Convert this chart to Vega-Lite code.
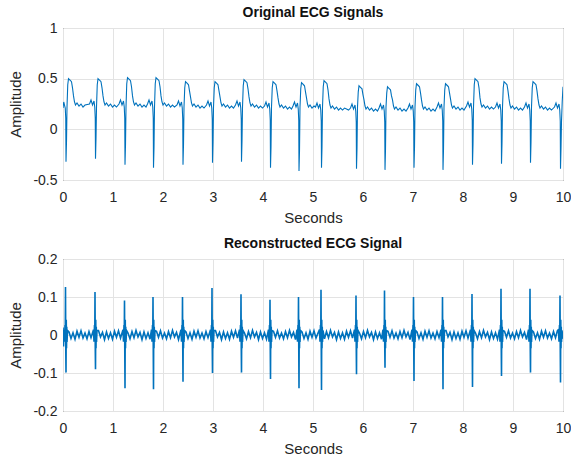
{
"$schema": "https://vega.github.io/schema/vega-lite/v6.json",
"background": "white",
"padding": {"left": 8, "top": 5, "right": 0, "bottom": 0},
"config": {
  "font": "Liberation Sans",
  "view": {"stroke": "#262626", "strokeWidth": 1},
  "axis": {"domain": false, "ticks": false, "grid": true, "labelFlush": false, "gridColor": "#e3e3e3", "gridOpacity": 1, "labelColor": "#262626", "titleColor": "#262626", "labelFontSize": 14, "titleFontSize": 15, "titleFontWeight": "normal"},
  "axisX": {"labelPadding": 10, "titlePadding": 6},
  "axisY": {"labelPadding": 6, "titlePadding": 9},
  "title": {"fontSize": 14, "fontWeight": "bold", "color": "#111111", "offset": 1, "frame": "group", "anchor": "middle"},
  "concat": {"spacing": 10}
},
"datasets": {
"o": [
{"t":0,"v":0.21},{"t":0.015,"v":0.27},{"t":0.03,"v":0.24},{"t":0.045,"v":0.21},{"t":0.055,"v":0.11},{"t":0.06,"v":-0.32},{"t":0.07,"v":-0.12},{"t":0.08,"v":0.22},{"t":0.095,"v":0.44},{"t":0.11,"v":0.5},{"t":0.13,"v":0.49},{"t":0.15,"v":0.48},{"t":0.17,"v":0.47},{"t":0.19,"v":0.41},{"t":0.21,"v":0.33},{"t":0.23,"v":0.27},{"t":0.25,"v":0.24},{"t":0.28,"v":0.26},{"t":0.32,"v":0.23},{"t":0.36,"v":0.25},{"t":0.4,"v":0.22},{"t":0.44,"v":0.24},
{"t":0.53,"v":0.25},{"t":0.56,"v":0.29},{"t":0.59,"v":0.24},{"t":0.62,"v":0.28},{"t":0.635,"v":0.22},{"t":0.645,"v":0.11},{"t":0.65,"v":-0.29},{"t":0.66,"v":-0.09},{"t":0.67,"v":0.22},{"t":0.685,"v":0.44},{"t":0.7,"v":0.5},{"t":0.72,"v":0.49},{"t":0.74,"v":0.48},{"t":0.76,"v":0.47},{"t":0.78,"v":0.41},{"t":0.8,"v":0.33},{"t":0.82,"v":0.27},{"t":0.84,"v":0.24},{"t":0.87,"v":0.26},{"t":0.91,"v":0.23},{"t":0.95,"v":0.25},{"t":0.99,"v":0.22},{"t":1.03,"v":0.24},{"t":1.07,"v":0.22},
{"t":1.12,"v":0.25},{"t":1.15,"v":0.29},{"t":1.18,"v":0.24},{"t":1.21,"v":0.28},{"t":1.225,"v":0.22},{"t":1.235,"v":0.11},{"t":1.24,"v":-0.35},{"t":1.25,"v":-0.15},{"t":1.26,"v":0.22},{"t":1.275,"v":0.45},{"t":1.29,"v":0.51},{"t":1.31,"v":0.5},{"t":1.33,"v":0.49},{"t":1.35,"v":0.48},{"t":1.37,"v":0.42},{"t":1.39,"v":0.33},{"t":1.41,"v":0.27},{"t":1.43,"v":0.24},{"t":1.46,"v":0.26},{"t":1.5,"v":0.23},{"t":1.54,"v":0.25},{"t":1.58,"v":0.22},{"t":1.62,"v":0.24},{"t":1.66,"v":0.22},
{"t":1.69,"v":0.25},{"t":1.72,"v":0.29},{"t":1.75,"v":0.24},{"t":1.78,"v":0.28},{"t":1.795,"v":0.22},{"t":1.805,"v":0.11},{"t":1.81,"v":-0.38},{"t":1.82,"v":-0.18},{"t":1.83,"v":0.22},{"t":1.845,"v":0.45},{"t":1.86,"v":0.51},{"t":1.88,"v":0.5},{"t":1.9,"v":0.49},{"t":1.92,"v":0.48},{"t":1.94,"v":0.42},{"t":1.96,"v":0.33},{"t":1.98,"v":0.27},{"t":2.0,"v":0.24},{"t":2.03,"v":0.26},{"t":2.07,"v":0.23},{"t":2.11,"v":0.25},{"t":2.15,"v":0.22},{"t":2.19,"v":0.24},{"t":2.23,"v":0.22},
{"t":2.28,"v":0.24},{"t":2.31,"v":0.28},{"t":2.34,"v":0.23},{"t":2.37,"v":0.27},{"t":2.385,"v":0.21},{"t":2.395,"v":0.1},{"t":2.4,"v":-0.35},{"t":2.41,"v":-0.15},{"t":2.42,"v":0.22},{"t":2.435,"v":0.41},{"t":2.45,"v":0.47},{"t":2.47,"v":0.46},{"t":2.49,"v":0.45},{"t":2.51,"v":0.44},{"t":2.53,"v":0.38},{"t":2.55,"v":0.32},{"t":2.57,"v":0.26},{"t":2.59,"v":0.23},{"t":2.62,"v":0.25},{"t":2.66,"v":0.22},{"t":2.7,"v":0.24},{"t":2.74,"v":0.21},{"t":2.78,"v":0.23},{"t":2.82,"v":0.21},
{"t":2.87,"v":0.24},{"t":2.9,"v":0.28},{"t":2.93,"v":0.23},{"t":2.96,"v":0.27},{"t":2.975,"v":0.21},{"t":2.985,"v":0.1},{"t":2.99,"v":-0.33},{"t":3.0,"v":-0.13},{"t":3.01,"v":0.22},{"t":3.025,"v":0.41},{"t":3.04,"v":0.47},{"t":3.06,"v":0.46},{"t":3.08,"v":0.45},{"t":3.1,"v":0.44},{"t":3.12,"v":0.38},{"t":3.14,"v":0.32},{"t":3.16,"v":0.26},{"t":3.18,"v":0.23},{"t":3.21,"v":0.25},{"t":3.25,"v":0.22},{"t":3.29,"v":0.24},{"t":3.33,"v":0.21},{"t":3.37,"v":0.23},{"t":3.41,"v":0.21},
{"t":3.45,"v":0.24},{"t":3.48,"v":0.28},{"t":3.51,"v":0.23},{"t":3.54,"v":0.27},{"t":3.555,"v":0.21},{"t":3.565,"v":0.1},{"t":3.57,"v":-0.32},{"t":3.58,"v":-0.12},{"t":3.59,"v":0.22},{"t":3.605,"v":0.43},{"t":3.62,"v":0.49},{"t":3.64,"v":0.48},{"t":3.66,"v":0.47},{"t":3.68,"v":0.46},{"t":3.7,"v":0.4},{"t":3.72,"v":0.32},{"t":3.74,"v":0.26},{"t":3.76,"v":0.23},{"t":3.79,"v":0.25},{"t":3.83,"v":0.22},{"t":3.87,"v":0.24},{"t":3.91,"v":0.21},{"t":3.95,"v":0.23},{"t":3.99,"v":0.21},
{"t":4.03,"v":0.23},{"t":4.06,"v":0.27},{"t":4.09,"v":0.22},{"t":4.12,"v":0.26},{"t":4.135,"v":0.2},{"t":4.145,"v":0.09},{"t":4.15,"v":-0.38},{"t":4.16,"v":-0.18},{"t":4.17,"v":0.22},{"t":4.185,"v":0.41},{"t":4.2,"v":0.47},{"t":4.22,"v":0.46},{"t":4.24,"v":0.45},{"t":4.26,"v":0.44},{"t":4.28,"v":0.38},{"t":4.3,"v":0.31},{"t":4.32,"v":0.25},{"t":4.34,"v":0.22},{"t":4.37,"v":0.24},{"t":4.41,"v":0.21},{"t":4.45,"v":0.23},{"t":4.49,"v":0.2},{"t":4.53,"v":0.22},{"t":4.57,"v":0.2},
{"t":4.6,"v":0.23},{"t":4.63,"v":0.27},{"t":4.66,"v":0.22},{"t":4.69,"v":0.26},{"t":4.705,"v":0.2},{"t":4.715,"v":0.09},{"t":4.72,"v":-0.41},{"t":4.73,"v":-0.21},{"t":4.74,"v":0.22},{"t":4.755,"v":0.4},{"t":4.77,"v":0.46},{"t":4.79,"v":0.45},{"t":4.81,"v":0.44},{"t":4.83,"v":0.43},{"t":4.85,"v":0.37},{"t":4.87,"v":0.31},{"t":4.89,"v":0.25},{"t":4.91,"v":0.22},{"t":4.94,"v":0.24},{"t":4.98,"v":0.21},{"t":5.02,"v":0.23},
{"t":5.05,"v":0.22},{"t":5.08,"v":0.26},{"t":5.11,"v":0.21},{"t":5.14,"v":0.25},{"t":5.155,"v":0.19},{"t":5.165,"v":0.08},{"t":5.17,"v":-0.38},{"t":5.18,"v":-0.18},{"t":5.19,"v":0.22},{"t":5.205,"v":0.42},{"t":5.22,"v":0.48},{"t":5.24,"v":0.47},{"t":5.26,"v":0.46},{"t":5.28,"v":0.45},{"t":5.3,"v":0.39},{"t":5.32,"v":0.3},{"t":5.34,"v":0.24},{"t":5.36,"v":0.21},{"t":5.39,"v":0.23},{"t":5.43,"v":0.2},{"t":5.47,"v":0.22},{"t":5.51,"v":0.19},{"t":5.55,"v":0.21},{"t":5.59,"v":0.19},{"t":5.63,"v":0.21},{"t":5.67,"v":0.2},{"t":5.71,"v":0.19},
{"t":5.75,"v":0.21},{"t":5.78,"v":0.25},{"t":5.81,"v":0.2},{"t":5.84,"v":0.24},{"t":5.855,"v":0.18},{"t":5.865,"v":0.07},{"t":5.87,"v":-0.39},{"t":5.88,"v":-0.19},{"t":5.89,"v":0.22},{"t":5.905,"v":0.37},{"t":5.92,"v":0.43},{"t":5.94,"v":0.42},{"t":5.96,"v":0.41},{"t":5.98,"v":0.4},{"t":6.0,"v":0.34},{"t":6.02,"v":0.29},{"t":6.04,"v":0.23},{"t":6.06,"v":0.2},{"t":6.09,"v":0.22},{"t":6.13,"v":0.19},{"t":6.17,"v":0.21},{"t":6.21,"v":0.18},{"t":6.25,"v":0.2},{"t":6.29,"v":0.18},
{"t":6.32,"v":0.21},{"t":6.35,"v":0.25},{"t":6.38,"v":0.2},{"t":6.41,"v":0.24},{"t":6.425,"v":0.18},{"t":6.435,"v":0.07},{"t":6.44,"v":-0.4},{"t":6.45,"v":-0.2},{"t":6.46,"v":0.22},{"t":6.475,"v":0.36},{"t":6.49,"v":0.42},{"t":6.51,"v":0.41},{"t":6.53,"v":0.4},{"t":6.55,"v":0.39},{"t":6.57,"v":0.33},{"t":6.59,"v":0.29},{"t":6.61,"v":0.23},{"t":6.63,"v":0.2},{"t":6.66,"v":0.22},{"t":6.7,"v":0.19},{"t":6.74,"v":0.21},{"t":6.78,"v":0.18},{"t":6.82,"v":0.2},{"t":6.86,"v":0.18},
{"t":6.9,"v":0.21},{"t":6.93,"v":0.25},{"t":6.96,"v":0.2},{"t":6.99,"v":0.24},{"t":7.005,"v":0.18},{"t":7.015,"v":0.07},{"t":7.02,"v":-0.38},{"t":7.03,"v":-0.18},{"t":7.04,"v":0.22},{"t":7.055,"v":0.39},{"t":7.07,"v":0.45},{"t":7.09,"v":0.44},{"t":7.11,"v":0.43},{"t":7.13,"v":0.42},{"t":7.15,"v":0.36},{"t":7.17,"v":0.29},{"t":7.19,"v":0.23},{"t":7.21,"v":0.2},{"t":7.24,"v":0.22},{"t":7.28,"v":0.19},{"t":7.32,"v":0.21},{"t":7.36,"v":0.18},{"t":7.4,"v":0.2},{"t":7.44,"v":0.18},
{"t":7.48,"v":0.22},{"t":7.51,"v":0.26},{"t":7.54,"v":0.21},{"t":7.57,"v":0.25},{"t":7.585,"v":0.19},{"t":7.595,"v":0.08},{"t":7.6,"v":-0.4},{"t":7.61,"v":-0.2},{"t":7.62,"v":0.22},{"t":7.635,"v":0.39},{"t":7.65,"v":0.45},{"t":7.67,"v":0.44},{"t":7.69,"v":0.43},{"t":7.71,"v":0.42},{"t":7.73,"v":0.36},{"t":7.75,"v":0.3},{"t":7.77,"v":0.24},{"t":7.79,"v":0.21},{"t":7.82,"v":0.23},{"t":7.86,"v":0.2},{"t":7.9,"v":0.22},{"t":7.94,"v":0.19},{"t":7.98,"v":0.21},{"t":8.02,"v":0.19},
{"t":8.07,"v":0.23},{"t":8.1,"v":0.27},{"t":8.13,"v":0.22},{"t":8.16,"v":0.26},{"t":8.175,"v":0.2},{"t":8.185,"v":0.09},{"t":8.19,"v":-0.35},{"t":8.2,"v":-0.15},{"t":8.21,"v":0.22},{"t":8.225,"v":0.44},{"t":8.24,"v":0.5},{"t":8.26,"v":0.49},{"t":8.28,"v":0.48},{"t":8.3,"v":0.47},{"t":8.32,"v":0.41},{"t":8.34,"v":0.31},{"t":8.36,"v":0.25},{"t":8.38,"v":0.22},{"t":8.41,"v":0.24},{"t":8.45,"v":0.21},{"t":8.49,"v":0.23},{"t":8.53,"v":0.2},{"t":8.57,"v":0.22},{"t":8.61,"v":0.2},
{"t":8.65,"v":0.22},{"t":8.68,"v":0.26},{"t":8.71,"v":0.21},{"t":8.74,"v":0.25},{"t":8.755,"v":0.19},{"t":8.765,"v":0.08},{"t":8.77,"v":-0.34},{"t":8.78,"v":-0.14},{"t":8.79,"v":0.22},{"t":8.805,"v":0.41},{"t":8.82,"v":0.47},{"t":8.84,"v":0.46},{"t":8.86,"v":0.45},{"t":8.88,"v":0.44},{"t":8.9,"v":0.38},{"t":8.92,"v":0.3},{"t":8.94,"v":0.24},{"t":8.96,"v":0.21},{"t":8.99,"v":0.23},{"t":9.03,"v":0.2},{"t":9.07,"v":0.22},{"t":9.11,"v":0.19},{"t":9.15,"v":0.21},{"t":9.19,"v":0.19},
{"t":9.23,"v":0.22},{"t":9.26,"v":0.26},{"t":9.29,"v":0.21},{"t":9.32,"v":0.25},{"t":9.335,"v":0.19},{"t":9.345,"v":0.08},{"t":9.35,"v":-0.33},{"t":9.36,"v":-0.13},{"t":9.37,"v":0.22},{"t":9.385,"v":0.41},{"t":9.4,"v":0.47},{"t":9.42,"v":0.46},{"t":9.44,"v":0.45},{"t":9.46,"v":0.44},{"t":9.48,"v":0.38},{"t":9.5,"v":0.3},{"t":9.52,"v":0.24},{"t":9.54,"v":0.21},{"t":9.57,"v":0.23},{"t":9.61,"v":0.2},{"t":9.65,"v":0.22},{"t":9.69,"v":0.19},{"t":9.73,"v":0.21},{"t":9.77,"v":0.19},
{"t":9.83,"v":0.22},{"t":9.86,"v":0.26},{"t":9.89,"v":0.21},{"t":9.92,"v":0.25},{"t":9.935,"v":0.19},{"t":9.945,"v":0.08},{"t":9.95,"v":-0.39},{"t":9.96,"v":-0.19},{"t":9.97,"v":0.08},{"t":9.985,"v":0.28},{"t":10,"v":0.42}
],
"r": [
{"t":0,"v":0.02},{"t":0.01,"v":-0.03},
{"t":0.02,"v":0.014},{"t":0.03,"v":-0.018},{"t":0.04,"v":0.026},{"t":0.045,"v":-0.012},{"t":0.05,"v":0.126},{"t":0.055,"v":-0.03},{"t":0.06,"v":-0.099},{"t":0.065,"v":0.04},{"t":0.07,"v":-0.035},{"t":0.075,"v":0.022},{"t":0.08,"v":-0.018},{"t":0.09,"v":0.012},
{"t":0.12,"v":0.008},{"t":0.16,"v":-0.009},{"t":0.2,"v":0.006},{"t":0.24,"v":-0.011},{"t":0.28,"v":0.01},{"t":0.32,"v":-0.006},{"t":0.36,"v":0.011},{"t":0.4,"v":-0.008},{"t":0.44,"v":0.005},{"t":0.48,"v":-0.01},{"t":0.52,"v":0.009},{"t":0.56,"v":-0.007},
{"t":0.61,"v":0.014},{"t":0.62,"v":-0.018},{"t":0.63,"v":0.026},{"t":0.635,"v":-0.012},{"t":0.64,"v":0.113},{"t":0.645,"v":-0.03},{"t":0.65,"v":-0.09},{"t":0.655,"v":0.04},{"t":0.66,"v":-0.035},{"t":0.665,"v":0.022},{"t":0.67,"v":-0.018},{"t":0.68,"v":0.012},
{"t":0.71,"v":0.012},{"t":0.75,"v":-0.005},{"t":0.79,"v":0.007},{"t":0.83,"v":-0.012},{"t":0.87,"v":0.008},{"t":0.91,"v":-0.009},{"t":0.95,"v":0.006},{"t":0.99,"v":-0.011},{"t":1.03,"v":0.01},{"t":1.07,"v":-0.006},{"t":1.11,"v":0.011},{"t":1.15,"v":-0.008},
{"t":1.2,"v":0.014},{"t":1.21,"v":-0.018},{"t":1.22,"v":0.026},{"t":1.225,"v":-0.012},{"t":1.23,"v":0.091},{"t":1.235,"v":-0.03},{"t":1.24,"v":-0.14},{"t":1.245,"v":0.04},{"t":1.25,"v":-0.035},{"t":1.255,"v":0.022},{"t":1.26,"v":-0.018},{"t":1.27,"v":0.012},
{"t":1.3,"v":0.005},{"t":1.34,"v":-0.01},{"t":1.38,"v":0.009},{"t":1.42,"v":-0.007},{"t":1.46,"v":0.012},{"t":1.5,"v":-0.005},{"t":1.54,"v":0.007},{"t":1.58,"v":-0.012},{"t":1.62,"v":0.008},{"t":1.66,"v":-0.009},{"t":1.7,"v":0.006},{"t":1.74,"v":-0.011},
{"t":1.77,"v":0.014},{"t":1.78,"v":-0.018},{"t":1.79,"v":0.026},{"t":1.795,"v":-0.012},{"t":1.8,"v":0.1},{"t":1.805,"v":-0.03},{"t":1.81,"v":-0.143},{"t":1.815,"v":0.04},{"t":1.82,"v":-0.035},{"t":1.825,"v":0.022},{"t":1.83,"v":-0.018},{"t":1.84,"v":0.012},
{"t":1.87,"v":0.01},{"t":1.91,"v":-0.006},{"t":1.95,"v":0.011},{"t":1.99,"v":-0.008},{"t":2.03,"v":0.005},{"t":2.07,"v":-0.01},{"t":2.11,"v":0.009},{"t":2.15,"v":-0.007},{"t":2.19,"v":0.012},{"t":2.23,"v":-0.005},{"t":2.27,"v":0.007},{"t":2.31,"v":-0.012},
{"t":2.36,"v":0.014},{"t":2.37,"v":-0.018},{"t":2.38,"v":0.026},{"t":2.385,"v":-0.012},{"t":2.39,"v":0.1},{"t":2.395,"v":-0.03},{"t":2.4,"v":-0.123},{"t":2.405,"v":0.04},{"t":2.41,"v":-0.035},{"t":2.415,"v":0.022},{"t":2.42,"v":-0.018},{"t":2.43,"v":0.012},
{"t":2.46,"v":0.008},{"t":2.5,"v":-0.009},{"t":2.54,"v":0.006},{"t":2.58,"v":-0.011},{"t":2.62,"v":0.01},{"t":2.66,"v":-0.006},{"t":2.7,"v":0.011},{"t":2.74,"v":-0.008},{"t":2.78,"v":0.005},{"t":2.82,"v":-0.01},{"t":2.86,"v":0.009},{"t":2.9,"v":-0.007},
{"t":2.95,"v":0.014},{"t":2.96,"v":-0.018},{"t":2.97,"v":0.026},{"t":2.975,"v":-0.012},{"t":2.98,"v":0.124},{"t":2.985,"v":-0.03},{"t":2.99,"v":-0.1},{"t":2.995,"v":0.04},{"t":3.0,"v":-0.035},{"t":3.005,"v":0.022},{"t":3.01,"v":-0.018},{"t":3.02,"v":0.012},
{"t":3.05,"v":0.012},{"t":3.09,"v":-0.005},{"t":3.13,"v":0.007},{"t":3.17,"v":-0.012},{"t":3.21,"v":0.008},{"t":3.25,"v":-0.009},{"t":3.29,"v":0.006},{"t":3.33,"v":-0.011},{"t":3.37,"v":0.01},{"t":3.41,"v":-0.006},{"t":3.45,"v":0.011},{"t":3.49,"v":-0.008},
{"t":3.53,"v":0.014},{"t":3.54,"v":-0.018},{"t":3.55,"v":0.026},{"t":3.555,"v":-0.012},{"t":3.56,"v":0.107},{"t":3.565,"v":-0.03},{"t":3.57,"v":-0.099},{"t":3.575,"v":0.04},{"t":3.58,"v":-0.035},{"t":3.585,"v":0.022},{"t":3.59,"v":-0.018},{"t":3.6,"v":0.012},
{"t":3.63,"v":0.005},{"t":3.67,"v":-0.01},{"t":3.71,"v":0.009},{"t":3.75,"v":-0.007},{"t":3.79,"v":0.012},{"t":3.83,"v":-0.005},{"t":3.87,"v":0.007},{"t":3.91,"v":-0.012},{"t":3.95,"v":0.008},{"t":3.99,"v":-0.009},{"t":4.03,"v":0.006},{"t":4.07,"v":-0.011},
{"t":4.11,"v":0.014},{"t":4.12,"v":-0.018},{"t":4.13,"v":0.026},{"t":4.135,"v":-0.012},{"t":4.14,"v":0.093},{"t":4.145,"v":-0.03},{"t":4.15,"v":-0.116},{"t":4.155,"v":0.04},{"t":4.16,"v":-0.035},{"t":4.165,"v":0.022},{"t":4.17,"v":-0.018},{"t":4.18,"v":0.012},
{"t":4.21,"v":0.01},{"t":4.25,"v":-0.006},{"t":4.29,"v":0.011},{"t":4.33,"v":-0.008},{"t":4.37,"v":0.005},{"t":4.41,"v":-0.01},{"t":4.45,"v":0.009},{"t":4.49,"v":-0.007},{"t":4.53,"v":0.012},{"t":4.57,"v":-0.005},{"t":4.61,"v":0.007},{"t":4.65,"v":-0.012},
{"t":4.68,"v":0.014},{"t":4.69,"v":-0.018},{"t":4.7,"v":0.026},{"t":4.705,"v":-0.012},{"t":4.71,"v":0.1},{"t":4.715,"v":-0.03},{"t":4.72,"v":-0.14},{"t":4.725,"v":0.04},{"t":4.73,"v":-0.035},{"t":4.735,"v":0.022},{"t":4.74,"v":-0.018},{"t":4.75,"v":0.012},
{"t":4.78,"v":0.008},{"t":4.82,"v":-0.009},{"t":4.86,"v":0.006},{"t":4.9,"v":-0.011},{"t":4.94,"v":0.01},{"t":4.98,"v":-0.006},{"t":5.02,"v":0.011},{"t":5.06,"v":-0.008},{"t":5.1,"v":0.005},
{"t":5.13,"v":0.014},{"t":5.14,"v":-0.018},{"t":5.15,"v":0.026},{"t":5.155,"v":-0.012},{"t":5.16,"v":0.119},{"t":5.165,"v":-0.03},{"t":5.17,"v":-0.145},{"t":5.175,"v":0.04},{"t":5.18,"v":-0.035},{"t":5.185,"v":0.022},{"t":5.19,"v":-0.018},{"t":5.2,"v":0.012},
{"t":5.23,"v":-0.01},{"t":5.27,"v":0.009},{"t":5.31,"v":-0.007},{"t":5.35,"v":0.012},{"t":5.39,"v":-0.005},{"t":5.43,"v":0.007},{"t":5.47,"v":-0.012},{"t":5.51,"v":0.008},{"t":5.55,"v":-0.009},{"t":5.59,"v":0.006},{"t":5.63,"v":-0.011},{"t":5.67,"v":0.01},{"t":5.71,"v":-0.006},{"t":5.75,"v":0.011},{"t":5.79,"v":-0.008},
{"t":5.83,"v":0.014},{"t":5.84,"v":-0.018},{"t":5.85,"v":0.026},{"t":5.855,"v":-0.012},{"t":5.86,"v":0.104},{"t":5.865,"v":-0.03},{"t":5.87,"v":-0.103},{"t":5.875,"v":0.04},{"t":5.88,"v":-0.035},{"t":5.885,"v":0.022},{"t":5.89,"v":-0.018},{"t":5.9,"v":0.012},
{"t":5.93,"v":0.005},{"t":5.97,"v":-0.01},{"t":6.01,"v":0.009},{"t":6.05,"v":-0.007},{"t":6.09,"v":0.012},{"t":6.13,"v":-0.005},{"t":6.17,"v":0.007},{"t":6.21,"v":-0.012},{"t":6.25,"v":0.008},{"t":6.29,"v":-0.009},{"t":6.33,"v":0.006},{"t":6.37,"v":-0.011},
{"t":6.4,"v":0.014},{"t":6.41,"v":-0.018},{"t":6.42,"v":0.026},{"t":6.425,"v":-0.012},{"t":6.43,"v":0.117},{"t":6.435,"v":-0.03},{"t":6.44,"v":-0.086},{"t":6.445,"v":0.04},{"t":6.45,"v":-0.035},{"t":6.455,"v":0.022},{"t":6.46,"v":-0.018},{"t":6.47,"v":0.012},
{"t":6.5,"v":0.01},{"t":6.54,"v":-0.006},{"t":6.58,"v":0.011},{"t":6.62,"v":-0.008},{"t":6.66,"v":0.005},{"t":6.7,"v":-0.01},{"t":6.74,"v":0.009},{"t":6.78,"v":-0.007},{"t":6.82,"v":0.012},{"t":6.86,"v":-0.005},{"t":6.9,"v":0.007},{"t":6.94,"v":-0.012},
{"t":6.98,"v":0.014},{"t":6.99,"v":-0.018},{"t":7.0,"v":0.026},{"t":7.005,"v":-0.012},{"t":7.01,"v":0.1},{"t":7.015,"v":-0.03},{"t":7.02,"v":-0.121},{"t":7.025,"v":0.04},{"t":7.03,"v":-0.035},{"t":7.035,"v":0.022},{"t":7.04,"v":-0.018},{"t":7.05,"v":0.012},
{"t":7.08,"v":0.008},{"t":7.12,"v":-0.009},{"t":7.16,"v":0.006},{"t":7.2,"v":-0.011},{"t":7.24,"v":0.01},{"t":7.28,"v":-0.006},{"t":7.32,"v":0.011},{"t":7.36,"v":-0.008},{"t":7.4,"v":0.005},{"t":7.44,"v":-0.01},{"t":7.48,"v":0.009},{"t":7.52,"v":-0.007},
{"t":7.56,"v":0.014},{"t":7.57,"v":-0.018},{"t":7.58,"v":0.026},{"t":7.585,"v":-0.012},{"t":7.59,"v":0.1},{"t":7.595,"v":-0.03},{"t":7.6,"v":-0.143},{"t":7.605,"v":0.04},{"t":7.61,"v":-0.035},{"t":7.615,"v":0.022},{"t":7.62,"v":-0.018},{"t":7.63,"v":0.012},
{"t":7.66,"v":0.012},{"t":7.7,"v":-0.005},{"t":7.74,"v":0.007},{"t":7.78,"v":-0.012},{"t":7.82,"v":0.008},{"t":7.86,"v":-0.009},{"t":7.9,"v":0.006},{"t":7.94,"v":-0.011},{"t":7.98,"v":0.01},{"t":8.02,"v":-0.006},{"t":8.06,"v":0.011},{"t":8.1,"v":-0.008},
{"t":8.15,"v":0.014},{"t":8.16,"v":-0.018},{"t":8.17,"v":0.026},{"t":8.175,"v":-0.012},{"t":8.18,"v":0.108},{"t":8.185,"v":-0.03},{"t":8.19,"v":-0.137},{"t":8.195,"v":0.04},{"t":8.2,"v":-0.035},{"t":8.205,"v":0.022},{"t":8.21,"v":-0.018},{"t":8.22,"v":0.012},
{"t":8.25,"v":0.005},{"t":8.29,"v":-0.01},{"t":8.33,"v":0.009},{"t":8.37,"v":-0.007},{"t":8.41,"v":0.012},{"t":8.45,"v":-0.005},{"t":8.49,"v":0.007},{"t":8.53,"v":-0.012},{"t":8.57,"v":0.008},{"t":8.61,"v":-0.009},{"t":8.65,"v":0.006},{"t":8.69,"v":-0.011},
{"t":8.73,"v":0.014},{"t":8.74,"v":-0.018},{"t":8.75,"v":0.026},{"t":8.755,"v":-0.012},{"t":8.76,"v":0.122},{"t":8.765,"v":-0.03},{"t":8.77,"v":-0.108},{"t":8.775,"v":0.04},{"t":8.78,"v":-0.035},{"t":8.785,"v":0.022},{"t":8.79,"v":-0.018},{"t":8.8,"v":0.012},
{"t":8.83,"v":0.01},{"t":8.87,"v":-0.006},{"t":8.91,"v":0.011},{"t":8.95,"v":-0.008},{"t":8.99,"v":0.005},{"t":9.03,"v":-0.01},{"t":9.07,"v":0.009},{"t":9.11,"v":-0.007},{"t":9.15,"v":0.012},{"t":9.19,"v":-0.005},{"t":9.23,"v":0.007},{"t":9.27,"v":-0.012},
{"t":9.31,"v":0.014},{"t":9.32,"v":-0.018},{"t":9.33,"v":0.026},{"t":9.335,"v":-0.012},{"t":9.34,"v":0.122},{"t":9.345,"v":-0.03},{"t":9.35,"v":-0.099},{"t":9.355,"v":0.04},{"t":9.36,"v":-0.035},{"t":9.365,"v":0.022},{"t":9.37,"v":-0.018},{"t":9.38,"v":0.012},
{"t":9.41,"v":0.008},{"t":9.45,"v":-0.009},{"t":9.49,"v":0.006},{"t":9.53,"v":-0.011},{"t":9.57,"v":0.01},{"t":9.61,"v":-0.006},{"t":9.65,"v":0.011},{"t":9.69,"v":-0.008},{"t":9.73,"v":0.005},{"t":9.77,"v":-0.01},{"t":9.81,"v":0.009},{"t":9.85,"v":-0.007},{"t":9.89,"v":0.012},
{"t":9.91,"v":0.014},{"t":9.92,"v":-0.018},{"t":9.93,"v":0.026},{"t":9.935,"v":-0.012},{"t":9.94,"v":0.104},{"t":9.945,"v":-0.03},{"t":9.95,"v":-0.125},{"t":9.955,"v":0.04},{"t":9.96,"v":-0.035},{"t":9.965,"v":0.022},{"t":9.97,"v":-0.018},{"t":9.98,"v":0.012},{"t":10,"v":-0.01}
]
},
"vconcat": [
{
  "title": {"text": "Original ECG Signals"},
  "width": 500, "height": 152,
  "data": {"name": "o"},
  "mark": {"type": "line", "color": "#0072BD", "strokeWidth": 1.1, "clip": true},
  "encoding": {
    "x": {"field": "t", "type": "quantitative", "scale": {"domain": [0, 10], "nice": false, "zero": false}, "axis": {"values": [0,1,2,3,4,5,6,7,8,9,10], "title": "Seconds"}},
    "y": {"field": "v", "type": "quantitative", "scale": {"domain": [-0.5, 1], "nice": false, "zero": false}, "axis": {"values": [-0.5, 0, 0.5, 1], "title": "Amplitude", "labelExpr": "datum.value < 0 ? '-' + abs(datum.value) : '' + datum.value"}}
  }
},
{
  "title": {"text": "Reconstructed ECG Signal"},
  "width": 500, "height": 152,
  "data": {"name": "r"},
  "mark": {"type": "line", "color": "#0072BD", "strokeWidth": 1.6, "clip": true},
  "encoding": {
    "x": {"field": "t", "type": "quantitative", "scale": {"domain": [0, 10], "nice": false, "zero": false}, "axis": {"values": [0,1,2,3,4,5,6,7,8,9,10], "title": "Seconds"}},
    "y": {"field": "v", "type": "quantitative", "scale": {"domain": [-0.2, 0.2], "nice": false, "zero": false}, "axis": {"values": [-0.2, -0.1, 0, 0.1, 0.2], "title": "Amplitude", "labelExpr": "datum.value < 0 ? '-' + abs(datum.value) : '' + datum.value"}}
  }
}
]
}
